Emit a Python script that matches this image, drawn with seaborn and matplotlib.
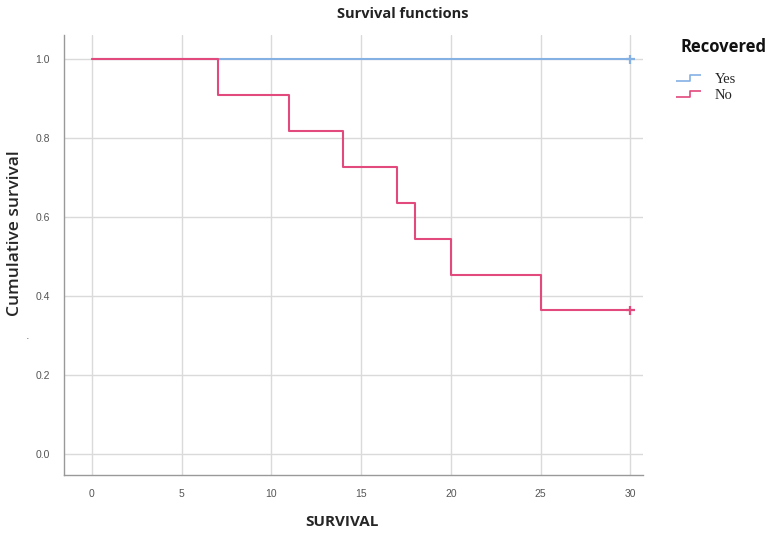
import matplotlib
matplotlib.use("Agg")
import matplotlib.pyplot as plt
from matplotlib.lines import Line2D
from matplotlib.path import Path
import seaborn as sns
import pandas as pd

# Kaplan-Meier step values
groups = ["Yes", "No"]
yes_time = [0, 30]
yes_surv = [1.0, 1.0]
no_time = [0, 7, 11, 14, 17, 18, 20, 25, 30]
no_surv = [1.0, 0.909, 0.818, 0.727, 0.636, 0.545, 0.455, 0.364, 0.364]
censor_time = [30, 30]
censor_surv = [1.0, 0.364]
censor_group = ["Yes", "No"]
x_ticks = [0, 5, 10, 15, 20, 25, 30]
y_ticks = [0.0, 0.2, 0.4, 0.6, 0.8, 1.0]

colors = {"Yes": "#84b0e4", "No": "#e2497c"}

df = pd.concat([
    pd.DataFrame({"time": yes_time, "surv": yes_surv, "Recovered": "Yes"}),
    pd.DataFrame({"time": no_time, "surv": no_surv, "Recovered": "No"}),
])
cens = pd.DataFrame({"time": censor_time, "surv": censor_surv, "Recovered": censor_group})

sns.set_style("white")
fig = plt.figure(figsize=(7.71, 5.44), dpi=100)
ax = fig.add_axes([64 / 771, 1 - 475 / 544, (643 - 64) / 771, (475 - 35) / 544])

sns.lineplot(data=df, x="time", y="surv", hue="Recovered", palette=colors,
             drawstyle="steps-post", linewidth=1.5, legend=False, ax=ax,
             hue_order=groups, estimator=None, sort=False)
sns.scatterplot(data=cens, x="time", y="surv", hue="Recovered", palette=colors,
                marker="+", s=40, linewidth=1.6, legend=False, ax=ax, zorder=5)

ax.set_xlim(-1.56, 30.7)
ax.set_ylim(-0.053, 1.062)
ax.set_xticks(x_ticks)
ax.set_yticks(y_ticks)
ax.set_xticklabels([str(t) for t in x_ticks])
ax.set_yticklabels([f"{t:.1f}" for t in y_ticks])
ax.grid(True, color="#dadada", linewidth=1.0)
ax.set_axisbelow(True)
for s in ["top", "right"]:
    ax.spines[s].set_visible(False)
for s in ["left", "bottom"]:
    ax.spines[s].set_color("#999999")
    ax.spines[s].set_linewidth(1.0)
ax.tick_params(length=0, pad=10, labelsize=7.5, labelcolor="#555555")
for lab in ax.get_xticklabels() + ax.get_yticklabels():
    lab.set_family("Liberation Sans")
ax.set_xlabel("")
ax.set_ylabel("")

fig.text(403 / 771, 1 - 14 / 544, "Survival functions", ha="center", va="center",
         fontsize=10.5, fontweight="bold", family="Open Sans", color="#222222")
fig.text(15 / 771, 1 - 233 / 544, "Cumulative survival", rotation=90, ha="center",
         va="center", fontsize=12.5, fontweight="semibold", family="Open Sans")
fig.text(28 / 771, 1 - 336 / 544, ".", ha="center", va="center", fontsize=8, color="#666666")
fig.text(342 / 771, 1 - 522 / 544, "SURVIVAL", ha="center", va="center",
         fontsize=11, fontweight="bold", family="Open Sans")
fig.text(680 / 771, 1 - 47 / 544, "Recovered", ha="left", va="center",
         fontsize=12, fontweight="bold", family="Open Sans", color="#111111")

step = Path([(-1, -0.22), (0.15, -0.22), (0.15, 0.22), (1, 0.22)],
            [Path.MOVETO, Path.LINETO, Path.LINETO, Path.LINETO])
handles = [Line2D([], [], linestyle="none", marker=step, markersize=18,
                  markerfacecolor="none", markeredgecolor=colors[g], markeredgewidth=1.2)
           for g in groups]
leg = fig.legend(handles, groups, loc="upper left",
                 bbox_to_anchor=(662 / 771, 1 - 60 / 544), frameon=False,
                 prop={"family": "Liberation Serif", "size": 10.5},
                 handletextpad=0.9, labelspacing=0.15, handlelength=1.8)

plt.savefig("out.png", dpi=100)
